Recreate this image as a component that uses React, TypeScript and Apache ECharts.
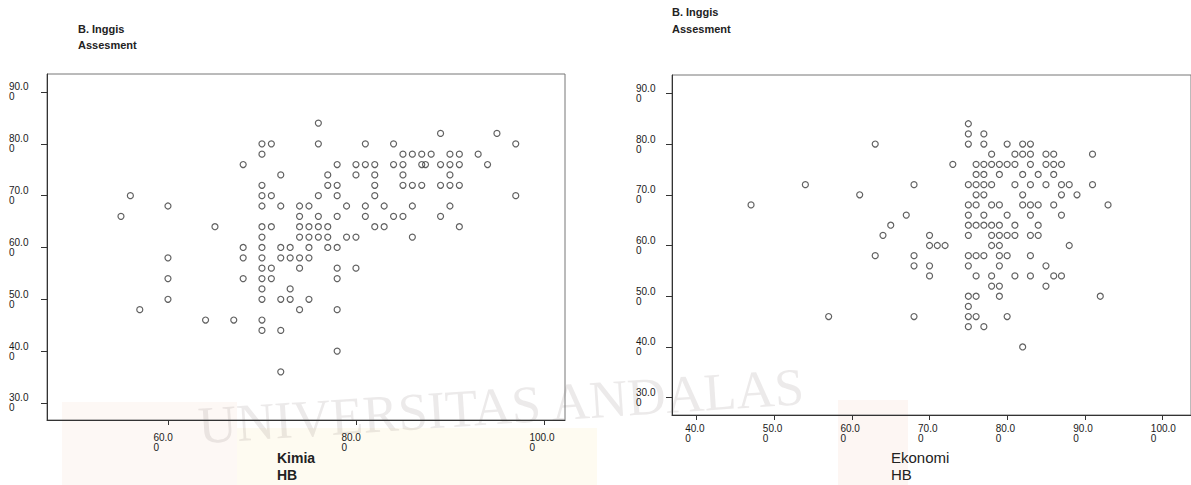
import React, { useEffect, useRef } from "react";
import * as echarts from "echarts";

// Left chart: Kimia HB (x) vs B. Inggis Assesment (y), grouped by y row
const kimiaRows: [number, number[]][] = [
  [84, [76]],
  [82, [89, 95]],
  [80, [70, 71, 76, 81, 84, 97]],
  [78, [70, 85, 86, 87, 88, 90, 91, 93]],
  [76, [68, 78, 80, 81, 82, 84, 85, 87, 87.4, 89, 90, 91, 94]],
  [74, [72, 77, 80, 82, 85, 90]],
  [72, [70, 77, 78, 82, 85, 86, 87, 89, 90, 91]],
  [70, [56, 70, 71, 76, 78, 82, 97]],
  [68, [60, 70, 72, 74, 75, 79, 81, 83, 86, 90]],
  [66, [55, 74, 76, 78, 81, 84, 85, 89]],
  [64, [65, 70, 71, 74, 75, 76, 77, 82, 83, 91]],
  [62, [70, 74, 75, 76, 77, 79, 80, 86]],
  [60, [68, 70, 72, 73, 75, 77, 78]],
  [58, [60, 68, 70, 72, 73, 74, 75]],
  [56, [70, 71, 74, 78, 80]],
  [54, [60, 68, 70, 71, 78]],
  [52, [70, 73]],
  [50, [60, 70, 72, 73, 75]],
  [48, [57, 74, 78]],
  [46, [64, 67, 70]],
  [44, [70, 72]],
  [40, [78]],
  [36, [72]],
];

// Right chart: Ekonomi HB (x) vs B. Inggis Assesment (y), grouped by y row
const ekonomiRows: [number, number[]][] = [
  [84, [75]],
  [82, [75, 77]],
  [80, [63, 75, 77, 80, 82, 83]],
  [78, [78, 81, 82, 83, 85, 86, 91]],
  [76, [73, 76, 77, 78, 79, 80, 81, 83, 85, 86, 87]],
  [74, [76, 77, 79, 82, 84, 86]],
  [72, [54, 68, 75, 76, 77, 78, 81, 83, 85, 87, 88, 91]],
  [70, [61, 76, 77, 82, 87, 89]],
  [68, [47, 75, 76, 78, 79, 82, 83, 84, 86, 93]],
  [66, [67, 75, 77, 80, 83, 87]],
  [64, [65, 75, 76, 77, 78, 79, 81, 84]],
  [62, [64, 70, 75, 78, 79, 80, 81, 83, 84]],
  [60, [70, 71, 72, 78, 79, 88]],
  [58, [63, 68, 75, 76, 77, 79, 80, 83]],
  [56, [68, 70, 75, 79, 85]],
  [54, [70, 76, 78, 81, 83, 86, 87]],
  [52, [78, 79, 85]],
  [50, [75, 76, 79, 92]],
  [48, [75]],
  [46, [57, 68, 75, 76, 80]],
  [44, [75, 77]],
  [40, [82]],
];

const yTicks = [30, 40, 50, 60, 70, 80, 90];
const kimiaTicks = [60, 80, 100];
const ekonomiTicks = [40, 50, 60, 70, 80, 90, 100];

const yTitle = ["B. Inggis", "Assesment"];
const kimiaTitle = ["Kimia", "HB"];
const ekonomiTitle = ["Ekonomi", "HB"];
const watermark = "UNIVERSITAS ANDALAS";

function flatten(rows: [number, number[]][]): number[][] {
  const out: number[][] = [];
  rows.forEach(([y, xs]) => xs.forEach((x) => out.push([x, y])));
  return out;
}

const FONT = "'Liberation Sans', Arial, sans-serif";

export default function App() {
  const ref = useRef<HTMLDivElement>(null);
  useEffect(() => {
    if (!ref.current) return;
    const chart = echarts.init(ref.current, null, { renderer: "svg" });

    const yAxisBase = (margin: number) => ({
      type: "value",
      splitLine: { show: false },
      axisLine: { show: true, lineStyle: { color: "#333", width: 1 } },
      axisTick: { show: true, length: 6, lineStyle: { color: "#333" }, customValues: yTicks },
      axisLabel: {
        customValues: yTicks,
        align: "left",
        margin,
        fontFamily: FONT,
        fontSize: 10,
        color: "#1a1a1a",
        lineHeight: 10,
        padding: [5, 0, 0, 0],
        formatter: (v: number) => v.toFixed(1) + "\n0",
      },
    });

    const xAxisBase = (ticks: number[], w: number, margin: number) => ({
      type: "value",
      splitLine: { show: false },
      axisLine: { show: true, lineStyle: { color: "#333", width: 1 } },
      axisTick: { show: true, length: 5, lineStyle: { color: "#333" }, customValues: ticks },
      axisLabel: {
        customValues: ticks,
        margin,
        align: "center",
        formatter: (v: number) => "{a|" + v.toFixed(1) + "}\n{a|0}",
        rich: {
          a: {
            width: w,
            align: "left",
            fontFamily: FONT,
            fontSize: 10,
            color: "#1a1a1a",
            lineHeight: 10,
          },
        },
      },
    });

    const circle = {
      type: "scatter",
      symbol: "circle",
      symbolSize: 6,
      itemStyle: { color: "rgba(255,255,255,0)", borderColor: "#3a3a3a", borderWidth: 1.2 },
      silent: true,
    };

    const txt = (x: number, y: number, s: string, size: number, weight: string) => ({
      type: "text",
      left: x,
      top: y,
      style: { text: s, fontFamily: FONT, fontSize: size, fontWeight: weight, fill: "#222" },
    });

    chart.setOption({
      animation: false,
      backgroundColor: "#fff",
      grid: [
        { left: 47, top: 74, width: 518, height: 346, show: true, borderColor: "#777", borderWidth: 1, backgroundColor: "transparent" },
        { left: 672, top: 75, width: 525, height: 340, show: true, borderColor: "#777", borderWidth: 1, backgroundColor: "transparent" },
      ],
      xAxis: [
        { ...xAxisBase(kimiaTicks, 29, 12), gridIndex: 0, min: 47.13, max: 102.24 },
        { ...xAxisBase(ekonomiTicks, 23, 8), gridIndex: 1, min: 36.815, max: 103.69 },
      ],
      yAxis: [
        { ...yAxisBase(38), gridIndex: 0, min: 26.71, max: 93.47 },
        { ...yAxisBase(36), gridIndex: 1, min: 26.59, max: 93.61 },
      ],
      series: [
        { ...circle, xAxisIndex: 0, yAxisIndex: 0, data: flatten(kimiaRows) },
        { ...circle, xAxisIndex: 1, yAxisIndex: 1, data: flatten(ekonomiRows) },
      ],
      graphic: [
        { type: "rect", z: -10, shape: { x: 62, y: 402, width: 175, height: 83 }, style: { fill: "rgba(245,210,195,0.16)" } },
        { type: "rect", z: -10, shape: { x: 237, y: 428, width: 360, height: 57 }, style: { fill: "rgba(252,236,190,0.22)" } },
        { type: "rect", z: -10, shape: { x: 838, y: 400, width: 70, height: 85 }, style: { fill: "rgba(245,210,195,0.2)" } },
        {
          type: "text",
          z: -5,
          x: 200,
          y: 452,
          rotation: 0.065,
          style: {
            text: watermark,
            fontFamily: "'Liberation Serif', 'DejaVu Serif', serif",
            fontSize: 53,
            fill: "rgba(110,95,95,0.13)",
            textVerticalAlign: "bottom",
          },
        },
        txt(78, 23, yTitle[0], 11, "bold"),
        txt(78, 39, yTitle[1], 11, "bold"),
        txt(672, 6, yTitle[0], 11, "bold"),
        txt(672, 23, yTitle[1], 11, "bold"),
        txt(277, 451, kimiaTitle[0], 14, "bold"),
        txt(277, 468, kimiaTitle[1], 14, "bold"),
        txt(891, 450, ekonomiTitle[0], 15, "normal"),
        txt(891, 467, ekonomiTitle[1], 15, "normal"),
      ],
    });
    return () => chart.dispose();
  }, []);
  return (
    <div
      ref={ref}
      style={{ position: "fixed", left: 0, top: 0, width: 1191, height: 485, background: "#fff" }}
    />
  );
}
